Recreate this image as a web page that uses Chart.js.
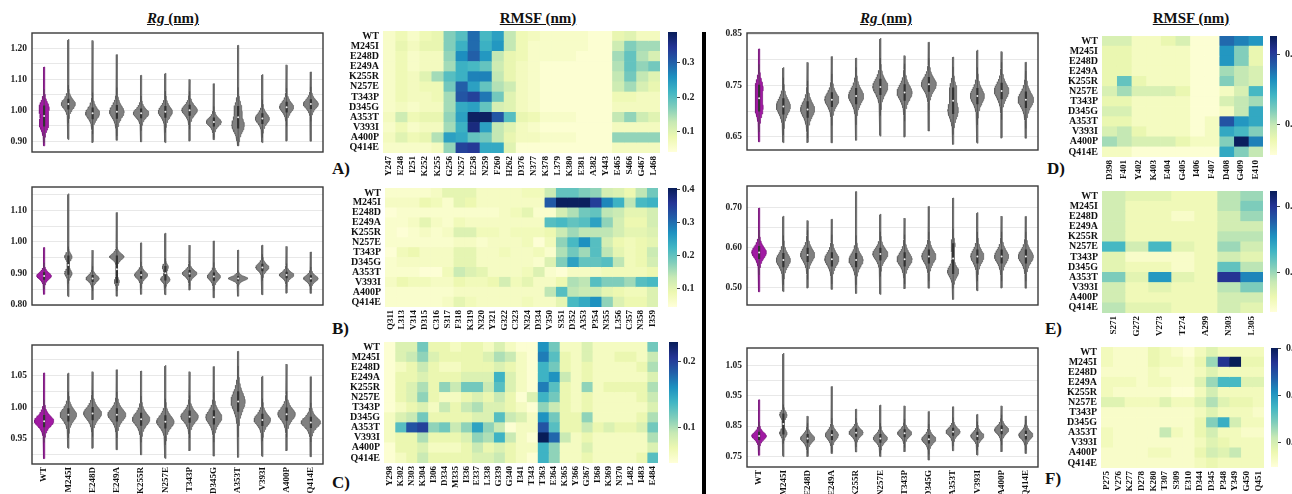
<!DOCTYPE html>
<html lang="en">
<head>
<meta charset="UTF-8">
<title>Rg and RMSF of the mutants</title>
<script src="https://cdn.jsdelivr.net/npm/chart.js"></script>
<style>
    body {
        margin: 0;
        background: #fff;
        width: 1292px;
        height: 494px;
        overflow: hidden;
        position: relative;
        font-family: 'Liberation Serif', 'Times New Roman', serif;
    }
    canvas { position: absolute; }
    .title {
        position: absolute;
        width: 140px;
        text-align: center;
        font-weight: bold;
        font-size: 15px;
        line-height: 18px;
        text-decoration: underline;
        color: #111;
    }
    .tag {
        position: absolute;
        font-weight: bold;
        font-size: 17px;
        line-height: 18px;
        color: #111;
    }
    .divider {
        position: absolute;
        left: 702px;
        top: 32px;
        width: 4px;
        height: 462px;
        background: #000;
    }
</style>
</head>
<body>
<div class="title" style="left:103px; top:9px;"><i>Rg</i> (nm)</div>
<div class="title" style="left:468px; top:9px;">RMSF (nm)</div>
<div class="title" style="left:816px; top:9px;"><i>Rg</i> (nm)</div>
<div class="title" style="left:1121px; top:9px;">RMSF (nm)</div>
<div class="tag" style="left:332px; top:160px;">A)</div>
<div class="tag" style="left:332px; top:320px;">B)</div>
<div class="tag" style="left:332px; top:474px;">C)</div>
<div class="tag" style="left:1047px; top:160px;">D)</div>
<div class="tag" style="left:1045px; top:320px;">E)</div>
<div class="tag" style="left:1045px; top:470px;">F)</div>
<div class="divider"></div>

<script>
const mutants = ['WT', 'M245I', 'E248D', 'E249A', 'K255R', 'N257E', 'T343P', 'D345G', 'A353T', 'V393I', 'A400P', 'Q414E'];

// ---- Rg violins: tail ends, main mode, half width, spread, optional second mode ----
const rgA_lo = [0.885, 0.905, 0.895, 0.903, 0.898, 0.895, 0.900, 0.905, 0.885, 0.895, 0.900, 0.900];
const rgA_hi = [1.140, 1.230, 1.226, 1.180, 1.113, 1.120, 1.100, 1.086, 1.210, 1.116, 1.147, 1.124];
const rgA_mode = [1.008, 1.020, 0.990, 0.995, 0.990, 0.995, 1.000, 0.962, 0.950, 0.973, 1.010, 1.020];
const rgA_w = [0.19, 0.29, 0.29, 0.30, 0.32, 0.29, 0.32, 0.31, 0.24, 0.29, 0.29, 0.31];
const rgA_sd = [0.026, 0.022, 0.024, 0.028, 0.020, 0.024, 0.022, 0.018, 0.030, 0.022, 0.022, 0.020];
const rgA_mode2 = [0.955, null, null, null, null, null, null, null, 1.005, null, null, null];
const rgA_w2 = [0.18, null, null, null, null, null, null, null, 0.12, null, null, null];
const rgA_ticks = [0.90, 0.95, 1.00, 1.05, 1.10, 1.15, 1.20];
const rgA_labels = ['0.90', '1.00', '1.10', '1.20'];

const rgB_lo = [0.834, 0.826, 0.816, 0.828, 0.834, 0.832, 0.847, 0.823, 0.828, 0.832, 0.837, 0.837];
const rgB_hi = [0.982, 1.153, 0.974, 1.093, 0.997, 1.028, 0.990, 1.003, 0.974, 0.990, 0.986, 0.968];
const rgB_mode = [0.892, 0.953, 0.884, 0.953, 0.895, 0.881, 0.900, 0.890, 0.884, 0.919, 0.895, 0.884];
const rgB_w = [0.30, 0.15, 0.27, 0.30, 0.27, 0.19, 0.30, 0.27, 0.40, 0.27, 0.30, 0.30];
const rgB_sd = [0.015, 0.014, 0.014, 0.013, 0.015, 0.012, 0.014, 0.016, 0.009, 0.015, 0.013, 0.013];
const rgB_mode2 = [null, 0.900, null, 0.874, null, 0.920, null, null, null, null, null, null];
const rgB_w2 = [null, 0.15, null, 0.10, null, 0.12, null, null, null, null, null, null];
const rgB_ticks = [0.80, 0.85, 0.90, 0.95, 1.00, 1.05, 1.10, 1.15];
const rgB_labels = ['0.80', '0.90', '1.00', '1.10'];

const rgC_lo = [0.919, 0.935, 0.935, 0.933, 0.925, 0.919, 0.931, 0.923, 0.921, 0.922, 0.931, 0.922];
const rgC_hi = [1.054, 1.054, 1.056, 1.059, 1.057, 1.066, 1.056, 1.064, 1.088, 1.049, 1.068, 1.048];
const rgC_mode = [0.978, 0.988, 0.990, 0.988, 0.981, 0.977, 0.985, 0.984, 1.009, 0.980, 0.989, 0.976];
const rgC_w = [0.40, 0.34, 0.37, 0.37, 0.36, 0.36, 0.36, 0.33, 0.29, 0.34, 0.36, 0.40];
const rgC_sd = [0.012, 0.013, 0.013, 0.013, 0.013, 0.013, 0.012, 0.014, 0.020, 0.012, 0.013, 0.011];
const rgC_mode2 = [null, null, null, null, null, null, null, null, null, null, null, null];
const rgC_w2 = [null, null, null, null, null, null, null, null, null, null, null, null];
const rgC_ticks = [0.925, 0.95, 0.975, 1.00, 1.025, 1.05, 1.075];
const rgC_labels = ['0.95', '1.00', '1.05'];

const rgD_lo = [0.640, 0.638, 0.638, 0.638, 0.643, 0.651, 0.649, 0.661, 0.635, 0.637, 0.647, 0.647];
const rgD_hi = [0.821, 0.785, 0.795, 0.806, 0.803, 0.842, 0.808, 0.834, 0.805, 0.819, 0.816, 0.795];
const rgD_mode = [0.745, 0.709, 0.703, 0.722, 0.729, 0.747, 0.736, 0.752, 0.700, 0.729, 0.739, 0.722];
const rgD_w = [0.15, 0.29, 0.29, 0.29, 0.31, 0.31, 0.31, 0.31, 0.20, 0.29, 0.30, 0.32];
const rgD_sd = [0.020, 0.020, 0.020, 0.018, 0.020, 0.020, 0.020, 0.018, 0.020, 0.020, 0.020, 0.020];
const rgD_mode2 = [0.705, null, null, null, null, null, null, null, 0.740, null, null, null];
const rgD_w2 = [0.15, null, null, null, null, null, null, null, 0.13, null, null, null];
const rgD_ticks = [0.65, 0.70, 0.75, 0.80, 0.85];
const rgD_labels = ['0.65', '0.75', '0.85'];

const rgE_lo = [0.489, 0.489, 0.498, 0.495, 0.485, 0.482, 0.496, 0.498, 0.470, 0.491, 0.498, 0.498];
const rgE_hi = [0.698, 0.678, 0.667, 0.670, 0.739, 0.683, 0.673, 0.702, 0.723, 0.687, 0.678, 0.677];
const rgE_mode = [0.587, 0.568, 0.581, 0.570, 0.568, 0.583, 0.570, 0.577, 0.539, 0.577, 0.577, 0.577];
const rgE_w = [0.30, 0.29, 0.29, 0.29, 0.29, 0.31, 0.31, 0.29, 0.23, 0.27, 0.29, 0.31];
const rgE_sd = [0.020, 0.022, 0.022, 0.022, 0.022, 0.020, 0.022, 0.022, 0.018, 0.022, 0.022, 0.022];
const rgE_mode2 = [null, null, null, null, null, null, null, null, 0.605, null, null, null];
const rgE_w2 = [null, null, null, null, null, null, null, null, 0.08, null, null, null];
const rgE_ticks = [0.50, 0.55, 0.60, 0.65, 0.70];
const rgE_labels = ['0.50', '0.60', '0.70'];

const rgF_lo = [0.753, 0.748, 0.748, 0.759, 0.764, 0.748, 0.764, 0.737, 0.768, 0.753, 0.764, 0.759];
const rgF_hi = [0.937, 1.092, 0.883, 0.981, 0.906, 0.920, 0.917, 0.898, 0.914, 0.889, 0.917, 0.883];
const rgF_mode = [0.817, 0.826, 0.809, 0.820, 0.828, 0.809, 0.826, 0.806, 0.831, 0.817, 0.837, 0.820];
const rgF_w = [0.30, 0.15, 0.29, 0.27, 0.29, 0.29, 0.29, 0.29, 0.29, 0.27, 0.29, 0.29];
const rgF_sd = [0.017, 0.015, 0.018, 0.020, 0.017, 0.018, 0.017, 0.018, 0.017, 0.017, 0.018, 0.018];
const rgF_mode2 = [null, 0.887, null, null, null, null, null, null, null, null, null, null];
const rgF_w2 = [null, 0.15, null, null, null, null, null, null, null, null, null, null];
const rgF_ticks = [0.75, 0.80, 0.85, 0.90, 0.95, 1.00, 1.05];
const rgF_labels = ['0.75', '0.85', '0.95', '1.05'];

// ---- RMSF heatmaps (rows follow mutants) ----
const resA = ['Y247', 'E248', 'I251', 'K252', 'K255', 'G256', 'N257', 'E258', 'N259', 'F260', 'H262', 'D376', 'N377', 'K378', 'L379', 'K380', 'E381', 'A382', 'Y443', 'E465', 'S466', 'G467', 'L468'];
const rmsfA = [
    [0.06, 0.08, 0.06, 0.08, 0.09, 0.17, 0.20, 0.29, 0.21, 0.24, 0.13, 0.08, 0.07, 0.06, 0.06, 0.06, 0.06, 0.05, 0.05, 0.09, 0.10, 0.07, 0.07],
    [0.06, 0.09, 0.07, 0.09, 0.09, 0.17, 0.22, 0.29, 0.22, 0.25, 0.13, 0.08, 0.06, 0.06, 0.06, 0.06, 0.06, 0.05, 0.05, 0.12, 0.17, 0.15, 0.15],
    [0.06, 0.08, 0.06, 0.07, 0.07, 0.16, 0.26, 0.30, 0.25, 0.13, 0.09, 0.08, 0.06, 0.06, 0.06, 0.06, 0.05, 0.05, 0.05, 0.15, 0.19, 0.14, 0.11],
    [0.06, 0.08, 0.06, 0.07, 0.07, 0.15, 0.22, 0.21, 0.19, 0.12, 0.09, 0.07, 0.06, 0.05, 0.05, 0.05, 0.05, 0.05, 0.05, 0.14, 0.19, 0.16, 0.18],
    [0.06, 0.08, 0.07, 0.10, 0.15, 0.20, 0.22, 0.27, 0.27, 0.13, 0.09, 0.07, 0.06, 0.05, 0.05, 0.05, 0.05, 0.05, 0.05, 0.13, 0.18, 0.13, 0.10],
    [0.06, 0.08, 0.07, 0.08, 0.08, 0.18, 0.30, 0.24, 0.19, 0.14, 0.12, 0.07, 0.06, 0.05, 0.05, 0.05, 0.05, 0.05, 0.05, 0.12, 0.15, 0.11, 0.09],
    [0.06, 0.08, 0.07, 0.07, 0.08, 0.15, 0.31, 0.33, 0.28, 0.18, 0.10, 0.07, 0.06, 0.05, 0.05, 0.05, 0.05, 0.05, 0.05, 0.08, 0.08, 0.07, 0.07],
    [0.06, 0.07, 0.06, 0.07, 0.07, 0.15, 0.23, 0.24, 0.19, 0.11, 0.10, 0.07, 0.06, 0.05, 0.05, 0.05, 0.05, 0.05, 0.05, 0.07, 0.07, 0.07, 0.07],
    [0.07, 0.12, 0.08, 0.09, 0.09, 0.16, 0.24, 0.38, 0.38, 0.31, 0.20, 0.09, 0.08, 0.06, 0.06, 0.06, 0.05, 0.05, 0.05, 0.13, 0.16, 0.12, 0.10],
    [0.06, 0.08, 0.06, 0.07, 0.07, 0.15, 0.22, 0.36, 0.24, 0.13, 0.10, 0.07, 0.06, 0.05, 0.05, 0.05, 0.05, 0.05, 0.05, 0.07, 0.07, 0.07, 0.07],
    [0.07, 0.10, 0.08, 0.09, 0.14, 0.24, 0.23, 0.19, 0.18, 0.13, 0.09, 0.07, 0.07, 0.06, 0.06, 0.06, 0.05, 0.05, 0.05, 0.16, 0.16, 0.16, 0.16],
    [0.06, 0.06, 0.06, 0.06, 0.07, 0.16, 0.33, 0.34, 0.23, 0.23, 0.10, 0.05, 0.05, 0.05, 0.05, 0.05, 0.05, 0.05, 0.05, 0.07, 0.07, 0.07, 0.07]
];
const cbarA = [0.042, 0.387];
const cbarA_ticks = [0.1, 0.2, 0.3];

const resB = ['Q311', 'L313', 'V314', 'D315', 'C316', 'S317', 'F318', 'K319', 'N320', 'Y321', 'G322', 'C323', 'N324', 'D334', 'V350', 'S351', 'D352', 'A353', 'P354', 'N355', 'L356', 'C357', 'N358', 'I359'];
const rmsfB = [
    [0.06, 0.06, 0.06, 0.06, 0.07, 0.10, 0.10, 0.10, 0.07, 0.07, 0.07, 0.07, 0.08, 0.08, 0.13, 0.20, 0.20, 0.18, 0.17, 0.12, 0.11, 0.09, 0.14, 0.19],
    [0.07, 0.07, 0.07, 0.09, 0.08, 0.06, 0.10, 0.09, 0.07, 0.07, 0.07, 0.07, 0.07, 0.07, 0.32, 0.40, 0.40, 0.40, 0.35, 0.28, 0.23, 0.14, 0.22, 0.23],
    [0.05, 0.06, 0.06, 0.06, 0.06, 0.06, 0.06, 0.06, 0.06, 0.06, 0.07, 0.08, 0.10, 0.06, 0.06, 0.12, 0.15, 0.19, 0.20, 0.14, 0.13, 0.10, 0.10, 0.12],
    [0.06, 0.06, 0.07, 0.10, 0.07, 0.06, 0.08, 0.07, 0.07, 0.07, 0.07, 0.07, 0.07, 0.07, 0.21, 0.22, 0.20, 0.21, 0.25, 0.17, 0.12, 0.09, 0.09, 0.12],
    [0.06, 0.05, 0.06, 0.07, 0.06, 0.07, 0.11, 0.11, 0.08, 0.08, 0.07, 0.08, 0.08, 0.08, 0.09, 0.13, 0.16, 0.14, 0.14, 0.14, 0.12, 0.10, 0.10, 0.11],
    [0.06, 0.06, 0.06, 0.06, 0.06, 0.06, 0.07, 0.07, 0.06, 0.07, 0.07, 0.07, 0.08, 0.05, 0.08, 0.17, 0.22, 0.27, 0.21, 0.12, 0.09, 0.08, 0.09, 0.10],
    [0.05, 0.08, 0.09, 0.07, 0.07, 0.07, 0.10, 0.10, 0.07, 0.07, 0.08, 0.07, 0.07, 0.08, 0.06, 0.15, 0.19, 0.16, 0.21, 0.14, 0.10, 0.08, 0.09, 0.13],
    [0.06, 0.07, 0.07, 0.07, 0.07, 0.07, 0.10, 0.10, 0.07, 0.07, 0.07, 0.07, 0.07, 0.06, 0.11, 0.18, 0.25, 0.20, 0.20, 0.21, 0.14, 0.08, 0.09, 0.12],
    [0.06, 0.06, 0.06, 0.05, 0.05, 0.08, 0.13, 0.11, 0.10, 0.07, 0.07, 0.07, 0.08, 0.11, 0.06, 0.05, 0.07, 0.07, 0.07, 0.08, 0.08, 0.08, 0.08, 0.09],
    [0.07, 0.09, 0.08, 0.08, 0.07, 0.07, 0.09, 0.08, 0.08, 0.09, 0.12, 0.08, 0.10, 0.07, 0.07, 0.09, 0.15, 0.14, 0.21, 0.18, 0.18, 0.16, 0.21, 0.22],
    [0.06, 0.06, 0.06, 0.06, 0.06, 0.06, 0.07, 0.07, 0.07, 0.07, 0.07, 0.07, 0.07, 0.07, 0.14, 0.21, 0.14, 0.13, 0.13, 0.10, 0.09, 0.08, 0.08, 0.11],
    [0.06, 0.06, 0.06, 0.06, 0.06, 0.07, 0.10, 0.08, 0.07, 0.07, 0.07, 0.07, 0.08, 0.07, 0.07, 0.10, 0.22, 0.24, 0.27, 0.17, 0.11, 0.09, 0.09, 0.11]
];
const cbarB = [0.045, 0.405];
const cbarB_ticks = [0.1, 0.2, 0.3, 0.4];

const resC = ['Y298', 'K302', 'N303', 'K304', 'I306', 'D334', 'M335', 'I336', 'E337', 'L338', 'G339', 'G340', 'I341', 'T343', 'T363', 'E364', 'K365', 'Y366', 'G367', 'I368', 'K369', 'N370', 'L482', 'I483', 'E484'];
const rmsfC = [
    [0.05, 0.08, 0.08, 0.12, 0.07, 0.07, 0.06, 0.07, 0.07, 0.06, 0.08, 0.06, 0.05, 0.05, 0.16, 0.12, 0.06, 0.06, 0.08, 0.06, 0.06, 0.06, 0.06, 0.06, 0.12],
    [0.05, 0.08, 0.09, 0.11, 0.08, 0.07, 0.07, 0.07, 0.07, 0.08, 0.10, 0.09, 0.06, 0.05, 0.17, 0.13, 0.07, 0.06, 0.08, 0.06, 0.06, 0.07, 0.07, 0.06, 0.09],
    [0.05, 0.06, 0.07, 0.09, 0.07, 0.06, 0.06, 0.07, 0.07, 0.07, 0.08, 0.07, 0.06, 0.05, 0.14, 0.12, 0.07, 0.06, 0.07, 0.06, 0.06, 0.06, 0.06, 0.07, 0.10],
    [0.05, 0.07, 0.07, 0.08, 0.07, 0.07, 0.07, 0.08, 0.08, 0.08, 0.14, 0.08, 0.06, 0.05, 0.14, 0.16, 0.09, 0.06, 0.07, 0.06, 0.06, 0.06, 0.06, 0.06, 0.08],
    [0.05, 0.07, 0.08, 0.10, 0.07, 0.11, 0.09, 0.12, 0.12, 0.09, 0.13, 0.08, 0.06, 0.05, 0.17, 0.13, 0.07, 0.06, 0.11, 0.06, 0.07, 0.07, 0.07, 0.07, 0.10],
    [0.05, 0.07, 0.08, 0.11, 0.07, 0.06, 0.06, 0.07, 0.08, 0.07, 0.09, 0.07, 0.05, 0.08, 0.14, 0.12, 0.07, 0.06, 0.07, 0.06, 0.06, 0.06, 0.06, 0.07, 0.09],
    [0.05, 0.06, 0.07, 0.08, 0.06, 0.09, 0.07, 0.09, 0.10, 0.08, 0.08, 0.07, 0.06, 0.05, 0.11, 0.09, 0.07, 0.06, 0.07, 0.06, 0.06, 0.06, 0.06, 0.06, 0.08],
    [0.06, 0.08, 0.09, 0.12, 0.07, 0.07, 0.07, 0.07, 0.08, 0.08, 0.13, 0.09, 0.08, 0.06, 0.16, 0.12, 0.07, 0.07, 0.11, 0.06, 0.06, 0.06, 0.06, 0.07, 0.10],
    [0.06, 0.13, 0.19, 0.20, 0.11, 0.12, 0.09, 0.11, 0.15, 0.11, 0.09, 0.05, 0.06, 0.06, 0.19, 0.13, 0.07, 0.07, 0.09, 0.07, 0.08, 0.07, 0.07, 0.08, 0.12],
    [0.06, 0.07, 0.07, 0.10, 0.07, 0.07, 0.07, 0.08, 0.11, 0.10, 0.14, 0.09, 0.06, 0.05, 0.23, 0.18, 0.09, 0.06, 0.07, 0.06, 0.06, 0.06, 0.06, 0.06, 0.10],
    [0.05, 0.07, 0.07, 0.08, 0.06, 0.06, 0.06, 0.07, 0.09, 0.07, 0.08, 0.07, 0.06, 0.06, 0.14, 0.11, 0.06, 0.06, 0.08, 0.06, 0.06, 0.06, 0.06, 0.06, 0.08],
    [0.05, 0.06, 0.07, 0.09, 0.07, 0.07, 0.07, 0.07, 0.08, 0.08, 0.09, 0.07, 0.06, 0.05, 0.14, 0.11, 0.06, 0.06, 0.07, 0.06, 0.06, 0.06, 0.06, 0.07, 0.13]
];
const cbarC = [0.046, 0.23];
const cbarC_ticks = [0.1, 0.2];

const resD = ['D398', 'F401', 'Y402', 'K403', 'E404', 'G405', 'I406', 'F407', 'D408', 'G409', 'E410'];
const rmsfD = [
    [0.09, 0.09, 0.07, 0.07, 0.08, 0.09, 0.06, 0.06, 0.18, 0.17, 0.16],
    [0.08, 0.08, 0.07, 0.07, 0.07, 0.07, 0.06, 0.06, 0.16, 0.12, 0.08],
    [0.08, 0.08, 0.07, 0.07, 0.07, 0.07, 0.06, 0.06, 0.16, 0.12, 0.08],
    [0.08, 0.08, 0.07, 0.07, 0.07, 0.07, 0.06, 0.06, 0.11, 0.10, 0.09],
    [0.08, 0.13, 0.08, 0.07, 0.07, 0.07, 0.06, 0.06, 0.12, 0.10, 0.09],
    [0.09, 0.11, 0.09, 0.09, 0.09, 0.08, 0.06, 0.06, 0.07, 0.09, 0.14],
    [0.08, 0.08, 0.07, 0.07, 0.07, 0.07, 0.06, 0.06, 0.09, 0.10, 0.11],
    [0.09, 0.09, 0.07, 0.07, 0.07, 0.07, 0.06, 0.06, 0.07, 0.10, 0.15],
    [0.08, 0.08, 0.07, 0.07, 0.07, 0.07, 0.06, 0.07, 0.19, 0.16, 0.15],
    [0.09, 0.10, 0.08, 0.07, 0.07, 0.07, 0.06, 0.07, 0.15, 0.14, 0.12],
    [0.11, 0.10, 0.09, 0.09, 0.09, 0.08, 0.07, 0.07, 0.12, 0.225, 0.17],
    [0.07, 0.07, 0.06, 0.06, 0.06, 0.06, 0.06, 0.06, 0.15, 0.12, 0.10]
];
const cbarD = [0.057, 0.227];
const cbarD_ticks = [0.1, 0.2];

const resE = ['S271', 'G272', 'V273', 'T274', 'A299', 'N303', 'L305'];
const rmsfE = [
    [0.08, 0.07, 0.07, 0.06, 0.06, 0.09, 0.10],
    [0.08, 0.06, 0.06, 0.06, 0.06, 0.09, 0.11],
    [0.08, 0.06, 0.06, 0.05, 0.06, 0.08, 0.10],
    [0.08, 0.06, 0.06, 0.06, 0.06, 0.08, 0.08],
    [0.08, 0.06, 0.06, 0.06, 0.06, 0.09, 0.09],
    [0.13, 0.08, 0.13, 0.07, 0.06, 0.10, 0.08],
    [0.07, 0.05, 0.05, 0.05, 0.06, 0.08, 0.07],
    [0.07, 0.06, 0.06, 0.05, 0.06, 0.12, 0.09],
    [0.11, 0.07, 0.15, 0.07, 0.06, 0.20, 0.16],
    [0.08, 0.06, 0.07, 0.06, 0.06, 0.09, 0.11],
    [0.08, 0.06, 0.06, 0.06, 0.06, 0.08, 0.08],
    [0.09, 0.07, 0.07, 0.06, 0.06, 0.08, 0.07]
];
const cbarE = [0.041, 0.223];
const cbarE_ticks = [0.1, 0.2];

const resF = ['P275', 'V276', 'K277', 'D278', 'K280', 'T307', 'S309', 'E310', 'D344', 'D345', 'P348', 'Y349', 'G450', 'Q451'];
const rmsfF = [
    [0.07, 0.06, 0.06, 0.06, 0.08, 0.07, 0.06, 0.05, 0.07, 0.09, 0.07, 0.07, 0.07, 0.07],
    [0.07, 0.06, 0.06, 0.06, 0.08, 0.07, 0.07, 0.06, 0.08, 0.13, 0.27, 0.30, 0.08, 0.08],
    [0.06, 0.06, 0.06, 0.06, 0.07, 0.06, 0.06, 0.06, 0.07, 0.09, 0.07, 0.07, 0.07, 0.07],
    [0.07, 0.07, 0.07, 0.06, 0.07, 0.07, 0.06, 0.06, 0.09, 0.13, 0.17, 0.17, 0.09, 0.09],
    [0.07, 0.06, 0.06, 0.06, 0.06, 0.06, 0.05, 0.05, 0.07, 0.10, 0.07, 0.07, 0.07, 0.07],
    [0.09, 0.09, 0.07, 0.07, 0.07, 0.09, 0.07, 0.07, 0.09, 0.12, 0.09, 0.08, 0.08, 0.07],
    [0.06, 0.06, 0.06, 0.06, 0.06, 0.06, 0.06, 0.06, 0.07, 0.09, 0.07, 0.07, 0.07, 0.06],
    [0.06, 0.06, 0.06, 0.06, 0.06, 0.06, 0.06, 0.06, 0.08, 0.14, 0.18, 0.10, 0.07, 0.07],
    [0.07, 0.06, 0.06, 0.06, 0.06, 0.11, 0.07, 0.06, 0.08, 0.10, 0.07, 0.07, 0.06, 0.06],
    [0.07, 0.06, 0.06, 0.06, 0.06, 0.06, 0.06, 0.06, 0.07, 0.09, 0.08, 0.07, 0.07, 0.07],
    [0.06, 0.06, 0.06, 0.06, 0.07, 0.07, 0.06, 0.06, 0.08, 0.10, 0.09, 0.11, 0.07, 0.07],
    [0.06, 0.06, 0.06, 0.06, 0.06, 0.06, 0.06, 0.06, 0.07, 0.08, 0.07, 0.07, 0.07, 0.07]
];
const cbarF = [0.047, 0.30];
const cbarF_ticks = [0.1, 0.2, 0.3];

// ---- shared setup ----
const SERIF = "'Liberation Serif', 'Times New Roman', serif";
Chart.defaults.font.family = SERIF;
Chart.defaults.font.weight = 'bold';
Chart.defaults.color = '#111';
Chart.defaults.animation = false;
Chart.defaults.events = [];
Chart.defaults.plugins.legend.display = false;
Chart.defaults.plugins.tooltip.enabled = false;

const YLGNBU = [[255, 255, 217], [237, 248, 177], [199, 233, 180], [127, 205, 187], [65, 182, 196],
                [29, 145, 192], [34, 94, 168], [37, 52, 148], [8, 29, 88]];

function ylgnbu(t) {
    t = Math.min(1, Math.max(0, t)) * 8;
    const i = Math.min(7, Math.floor(t));
    const f = t - i;
    const a = YLGNBU[i], b = YLGNBU[i + 1];
    return `rgb(${a.map((v, k) => Math.round(v + (b[k] - v) * f)).join(',')})`;
}

function makeCanvas(left, top, w, h) {
    const c = document.createElement('canvas');
    c.width = w;
    c.height = h;
    c.style.left = left + 'px';
    c.style.top = top + 'px';
    c.style.width = w + 'px';
    c.style.height = h + 'px';
    document.body.appendChild(c);
    return c;
}

const framePlugin = {
    id: 'frame',
    afterDraw(chart) {
        const a = chart.chartArea, ctx = chart.ctx;
        ctx.save();
        ctx.strokeStyle = '#3a3a3a';
        ctx.lineWidth = 1.4;
        ctx.strokeRect(a.left, a.top, a.right - a.left, a.bottom - a.top);
        ctx.restore();
    }
};

// half width of a violin at height y (sum of the bulges, thin tail elsewhere)
function halfWidth(y, peaks) {
    let hw = 0;
    peaks.forEach(([m, w, s]) => {
        const d = (y - m) / s;
        hw += w * Math.pow(1 + d * d / 2, -2);
    });
    return Math.max(hw, 0.025);
}

function violinPanel(box, yMin, yMax, ticks, labels, lo, hi, mode, w, sd, mode2, w2, showX) {
    const axisW = 36, padTop = 10, xH = showX ? 45 : 0, padBottom = showX ? 0 : 10;
    const left = box[0] - axisW;
    const width = box[2] - left + 4;
    const height = box[3] - box[1] + padTop + padBottom + xH;
    const canvas = makeCanvas(left, box[1] - padTop, width, height);

    const datasets = [];
    const boxes = [], whiskers = [], medians = [];
    for (let i = 0; i < lo.length; i++) {
        const peaks = [[mode[i], w[i], sd[i]]];
        if (mode2[i] != null) peaks.push([mode2[i], w2[i], sd[i]]);
        const n = 100, right = [], leftSide = [];
        for (let k = 0; k <= n; k++) {
            const y = lo[i] + (hi[i] - lo[i]) * k / n;
            const hw = (k === 0 || k === n) ? 0.008 : halfWidth(y, peaks);
            right.push({x: i + hw, y});
            leftSide.push({x: i - hw, y});
        }
        const pts = right.concat(leftSide.reverse());
        pts.push(pts[0]);
        const isWT = mutants[i] === 'WT';
        datasets.push({
            data: pts,
            borderColor: isWT ? '#7a167c' : '#5c5c5c',
            borderWidth: 0.7,
            backgroundColor: isWT ? '#a11aa3' : '#808080',
            fill: 'shape',
            pointRadius: 0,
            order: 3
        });
        const c = mode2[i] != null ? (mode[i] + mode2[i]) / 2 : mode[i];
        const half = mode2[i] != null ? Math.abs(mode[i] - mode2[i]) / 2 + 0.3 * sd[i] : 0.8 * sd[i];
        boxes.push({x: i, y: c - half}, {x: i, y: c + half}, {x: i, y: null});
        whiskers.push({x: i, y: Math.max(lo[i], c - half - 2 * sd[i])},
                      {x: i, y: Math.min(hi[i], c + half + 2 * sd[i])}, {x: i, y: null});
        medians.push({x: i, y: c});
    }
    datasets.push({data: whiskers, borderColor: '#4a4a4a', borderWidth: 0.8, pointRadius: 0, fill: false, spanGaps: false, order: 2});
    datasets.push({data: boxes, borderColor: '#333', borderWidth: 2.2, pointRadius: 0, fill: false, spanGaps: false, order: 1});
    datasets.push({data: medians, showLine: false, pointRadius: 1, pointBackgroundColor: '#eee', pointBorderWidth: 0, order: 0});

    new Chart(canvas, {
        type: 'line',
        data: {datasets},
        plugins: [framePlugin],
        options: {
            responsive: false,
            layout: {padding: {top: padTop, bottom: padBottom, left: 0, right: 4}},
            elements: {line: {tension: 0}},
            scales: {
                x: {
                    type: 'linear',
                    min: -0.5,
                    max: lo.length - 0.5,
                    display: showX,
                    afterBuildTicks: s => { s.ticks = mutants.map((m, i) => ({value: i})); },
                    afterFit: s => { s.height = xH; s.paddingLeft = 0; s.paddingRight = 0; },
                    grid: {display: false, drawTicks: false},
                    border: {display: false},
                    ticks: {
                        autoSkip: false,
                        minRotation: 90,
                        maxRotation: 90,
                        padding: 3,
                        font: {size: 9, weight: 'bold'},
                        color: '#111',
                        callback: (v, i) => mutants[i]
                    }
                },
                y: {
                    type: 'linear',
                    min: yMin,
                    max: yMax,
                    afterBuildTicks: s => { s.ticks = ticks.map(v => ({value: v})); },
                    afterFit: s => { s.width = axisW; s.paddingTop = 0; s.paddingBottom = 0; },
                    grid: {color: '#e8e8e8', lineWidth: 1, drawTicks: false},
                    border: {display: false},
                    ticks: {
                        autoSkip: false,
                        padding: 5,
                        font: {size: 9.5, weight: 'bold'},
                        color: '#222',
                        callback: v => labels.includes(v.toFixed(2)) ? v.toFixed(2) : ''
                    }
                }
            }
        }
    });
}

function heatPanel(area, cols, vals, range) {
    const axisW = 60, padTop = 2, xH = 34;
    const left = area[0] - axisW;
    const width = area[2] - left + 2;
    const height = area[3] - area[1] + padTop + xH;
    const canvas = makeCanvas(left, area[1] - padTop, width, height);
    const [vmin, vmax] = range;
    const datasets = cols.map((c, j) => ({
        label: c,
        data: mutants.map(() => 1),
        backgroundColor: mutants.map((m, i) => ylgnbu((vals[i][j] - vmin) / (vmax - vmin))),
        borderWidth: 0,
        barPercentage: 1,
        categoryPercentage: 1
    }));
    new Chart(canvas, {
        type: 'bar',
        data: {labels: mutants, datasets},
        options: {
            responsive: false,
            indexAxis: 'y',
            layout: {padding: {top: padTop, bottom: 0, left: 0, right: 2}},
            scales: {
                x: {
                    type: 'linear',
                    stacked: true,
                    min: 0,
                    max: cols.length,
                    afterBuildTicks: s => { s.ticks = cols.map((c, j) => ({value: j + 0.5})); },
                    afterFit: s => { s.height = xH; s.paddingLeft = 0; s.paddingRight = 0; },
                    grid: {display: false, drawTicks: false},
                    border: {display: false},
                    ticks: {
                        autoSkip: false,
                        minRotation: 90,
                        maxRotation: 90,
                        padding: 3,
                        font: {size: 9, weight: 'bold'},
                        color: '#111',
                        callback: (v, i) => cols[i]
                    }
                },
                y: {
                    stacked: true,
                    afterFit: s => { s.width = axisW; s.paddingTop = 0; s.paddingBottom = 0; },
                    grid: {display: false, drawTicks: false},
                    border: {display: false},
                    ticks: {autoSkip: false, padding: 4, font: {size: 10, weight: 'bold'}, color: '#111'}
                }
            }
        }
    });
}

function colorbar(area, range, ticks, pad) {
    const padY = 8, axisW = 34;
    const [vmin, vmax] = range;
    const width = area[2] - area[0] + axisW;
    const height = area[3] - area[1] + 2 * padY;
    const canvas = makeCanvas(area[0], area[1] - padY, width, height);
    new Chart(canvas, {
        type: 'bar',
        data: {
            labels: ['RMSF'],
            datasets: [{
                data: [[vmin, vmax]],
                barPercentage: 1,
                categoryPercentage: 1,
                borderWidth: 0,
                backgroundColor: ctx => {
                    const a = ctx.chart.chartArea;
                    if (!a) return '#ffffd9';
                    const g = ctx.chart.ctx.createLinearGradient(0, a.bottom, 0, a.top);
                    YLGNBU.forEach((c, k) => g.addColorStop(k / 8, `rgb(${c.join(',')})`));
                    return g;
                }
            }]
        },
        options: {
            responsive: false,
            layout: {padding: {top: padY, bottom: padY, left: 0, right: 0}},
            scales: {
                x: {display: false},
                y: {
                    position: 'right',
                    min: vmin,
                    max: vmax,
                    afterBuildTicks: s => { s.ticks = ticks.map(v => ({value: v})); },
                    afterFit: s => { s.width = axisW; s.paddingTop = 0; s.paddingBottom = 0; },
                    grid: {drawOnChartArea: false, drawTicks: true, tickLength: 3, color: '#444'},
                    border: {display: false},
                    ticks: {
                        autoSkip: false,
                        padding: pad,
                        font: {size: 10, weight: 'bold'},
                        color: '#222',
                        callback: v => v.toFixed(1)
                    }
                }
            }
        }
    });
}

// ---- left half ----
violinPanel([32, 33, 323, 152], 0.865, 1.25, rgA_ticks, rgA_labels, rgA_lo, rgA_hi, rgA_mode, rgA_w, rgA_sd, rgA_mode2, rgA_w2, false);
violinPanel([32, 187, 323, 305], 0.80, 1.174, rgB_ticks, rgB_labels, rgB_lo, rgB_hi, rgB_mode, rgB_w, rgB_sd, rgB_mode2, rgB_w2, false);
violinPanel([32, 345, 323, 464], 0.9105, 1.098, rgC_ticks, rgC_labels, rgC_lo, rgC_hi, rgC_mode, rgC_w, rgC_sd, rgC_mode2, rgC_w2, true);

heatPanel([383, 31, 660, 153], resA, rmsfA, cbarA);
heatPanel([385, 188, 658, 307], resB, rmsfB, cbarB);
heatPanel([384, 342, 658, 463], resC, rmsfC, cbarC);
colorbar([668, 32, 677, 152], cbarA, cbarA_ticks, 2);
colorbar([668, 188, 677, 307], cbarB, cbarB_ticks, 2);
colorbar([669, 342, 678, 463], cbarC, cbarC_ticks, 2);

// ---- right half ----
violinPanel([747, 33, 1038, 150], 0.624, 0.852, rgD_ticks, rgD_labels, rgD_lo, rgD_hi, rgD_mode, rgD_w, rgD_sd, rgD_mode2, rgD_w2, false);
violinPanel([747, 186, 1038, 305], 0.456, 0.753, rgE_ticks, rgE_labels, rgE_lo, rgE_hi, rgE_mode, rgE_w, rgE_sd, rgE_mode2, rgE_w2, false);
violinPanel([747, 348, 1038, 467], 0.714, 1.109, rgF_ticks, rgF_labels, rgF_lo, rgF_hi, rgF_mode, rgF_w, rgF_sd, rgF_mode2, rgF_w2, true);

heatPanel([1102, 36, 1263, 157], resD, rmsfD, cbarD);
heatPanel([1102, 191, 1263, 313], resE, rmsfE, cbarE);
heatPanel([1101, 347, 1264, 468], resF, rmsfF, cbarF);
colorbar([1270, 36, 1277, 155], cbarD, cbarD_ticks, 5);
colorbar([1270, 191, 1277, 312], cbarE, cbarE_ticks, 5);
colorbar([1271, 348, 1278, 467], cbarF, cbarF_ticks, 5);
</script>
</body>
</html>
